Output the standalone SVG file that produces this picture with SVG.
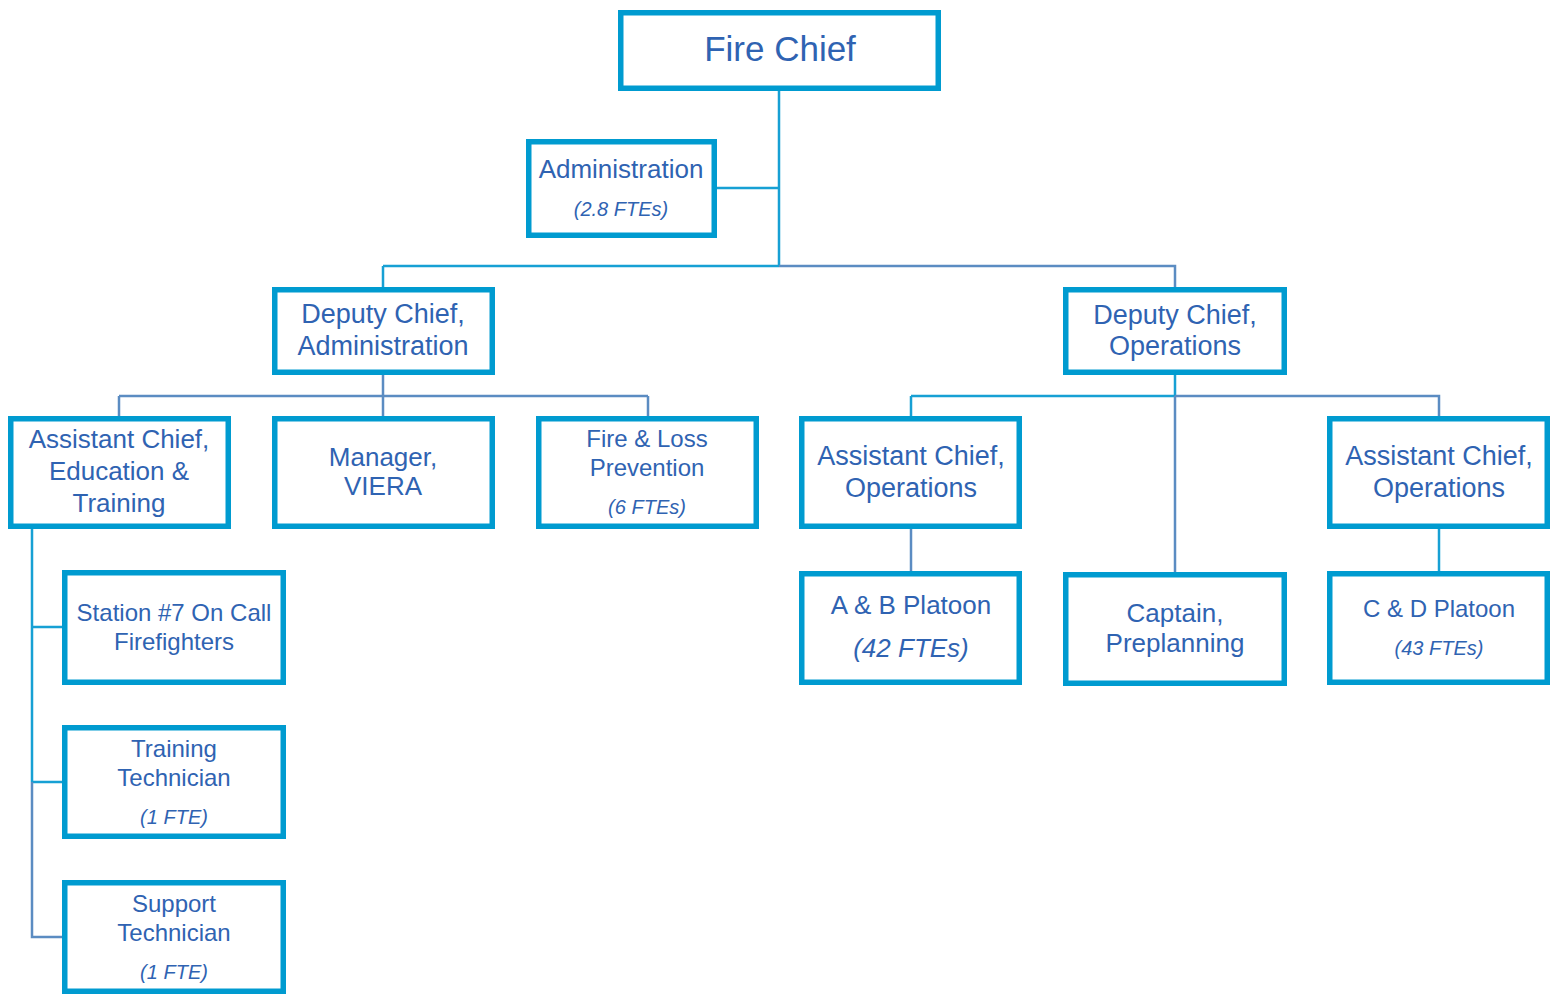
<svg xmlns="http://www.w3.org/2000/svg" width="1555" height="994" viewBox="0 0 1555 994">
<style>
.box{fill:#fff;stroke:#009bd0;stroke-width:5.5}
.t{font-family:"Liberation Sans",Arial,sans-serif;fill:#2f63b2;text-anchor:middle}
.n{font-size:26px}
.i{font-style:italic;font-size:20px}
.c{stroke:#17a0d4;stroke-width:2.5;fill:none}
.s{stroke:#5b8cc2;stroke-width:2.5;fill:none}
</style>
<rect width="1555" height="994" fill="#fff"/>
<g id="connectors">
<path class="c" d="M779 90V266M717 188H779M383 266H779M383 266V289"/>
<path class="s" d="M779 266H1175V289"/>
<path class="s" d="M383 375V396M119 396H648M119 396V418M383 396V418M648 396V418"/>
<path class="c" d="M1175 375V396M911 396H1175M911 396V418"/>
<path class="s" d="M1175 396H1439V418M1175 396V574"/>
<path class="s" d="M911 529V572"/>
<path class="c" d="M1439 529V572"/>
<path class="c" d="M32 529V782M32 627H64M32 782H64"/>
<path class="s" d="M32 782V937H64"/>
</g>
<g id="fire-chief"><rect class="box" x="620.75" y="12.75" width="317.5" height="75.5"/><text class="t" x="780" y="61" font-size="35">Fire Chief</text></g>
<g id="administration"><rect class="box" x="528.75" y="141.75" width="185.5" height="93.5"/><text class="t n" x="621" y="178">Administration</text><text class="t i" x="621" y="216">(2.8 FTEs)</text></g>
<g id="deputy-admin"><rect class="box" x="274.75" y="289.75" width="217.5" height="82.5"/><text class="t" font-size="27" x="383" y="323">Deputy Chief,</text><text class="t" font-size="27" x="383" y="355">Administration</text></g>
<g id="deputy-ops"><rect class="box" x="1065.75" y="289.75" width="218.5" height="82.5"/><text class="t" font-size="27" x="1175" y="324">Deputy Chief,</text><text class="t" font-size="27" x="1175" y="355">Operations</text></g>
<g id="asst-edu"><rect class="box" x="10.75" y="418.75" width="217.5" height="107.5"/><text class="t n" x="119" y="448">Assistant Chief,</text><text class="t n" x="119" y="480">Education &amp;</text><text class="t n" x="119" y="512">Training</text></g>
<g id="manager-viera"><rect class="box" x="274.75" y="418.75" width="217.5" height="107.5"/><text class="t n" x="383" y="466">Manager,</text><text class="t n" x="383" y="495">VIERA</text></g>
<g id="fire-loss"><rect class="box" x="538.75" y="418.75" width="217.5" height="107.5"/><text class="t" font-size="24" x="647" y="447">Fire &amp; Loss</text><text class="t" font-size="24" x="647" y="476">Prevention</text><text class="t i" x="647" y="514">(6 FTEs)</text></g>
<g id="asst-ops-1"><rect class="box" x="801.75" y="418.75" width="217.5" height="107.5"/><text class="t" font-size="27" x="911" y="465">Assistant Chief,</text><text class="t" font-size="27" x="911" y="497">Operations</text></g>
<g id="asst-ops-2"><rect class="box" x="1329.75" y="418.75" width="217.5" height="107.5"/><text class="t" font-size="27" x="1439" y="465">Assistant Chief,</text><text class="t" font-size="27" x="1439" y="497">Operations</text></g>
<g id="ab-platoon"><rect class="box" x="801.75" y="573.75" width="217.5" height="108.5"/><text class="t n" x="911" y="614">A &amp; B Platoon</text><text class="t" font-size="26" font-style="italic" x="911" y="657">(42 FTEs)</text></g>
<g id="captain"><rect class="box" x="1065.75" y="574.75" width="218.5" height="108.5"/><text class="t n" x="1175" y="622">Captain,</text><text class="t n" x="1175" y="652">Preplanning</text></g>
<g id="cd-platoon"><rect class="box" x="1329.75" y="573.75" width="217.5" height="108.5"/><text class="t" font-size="24" x="1439" y="617">C &amp; D Platoon</text><text class="t i" x="1439" y="655">(43 FTEs)</text></g>
<g id="station7"><rect class="box" x="64.75" y="572.75" width="218.5" height="109.5"/><text class="t" font-size="24" x="174" y="621">Station #7 On Call</text><text class="t" font-size="24" x="174" y="650">Firefighters</text></g>
<g id="training-tech"><rect class="box" x="64.75" y="727.75" width="218.5" height="108.5"/><text class="t" font-size="24" x="174" y="757">Training</text><text class="t" font-size="24" x="174" y="786">Technician</text><text class="t i" x="174" y="824">(1 FTE)</text></g>
<g id="support-tech"><rect class="box" x="64.75" y="882.75" width="218.5" height="108.5"/><text class="t" font-size="24" x="174" y="912">Support</text><text class="t" font-size="24" x="174" y="941">Technician</text><text class="t i" x="174" y="979">(1 FTE)</text></g>
</svg>
